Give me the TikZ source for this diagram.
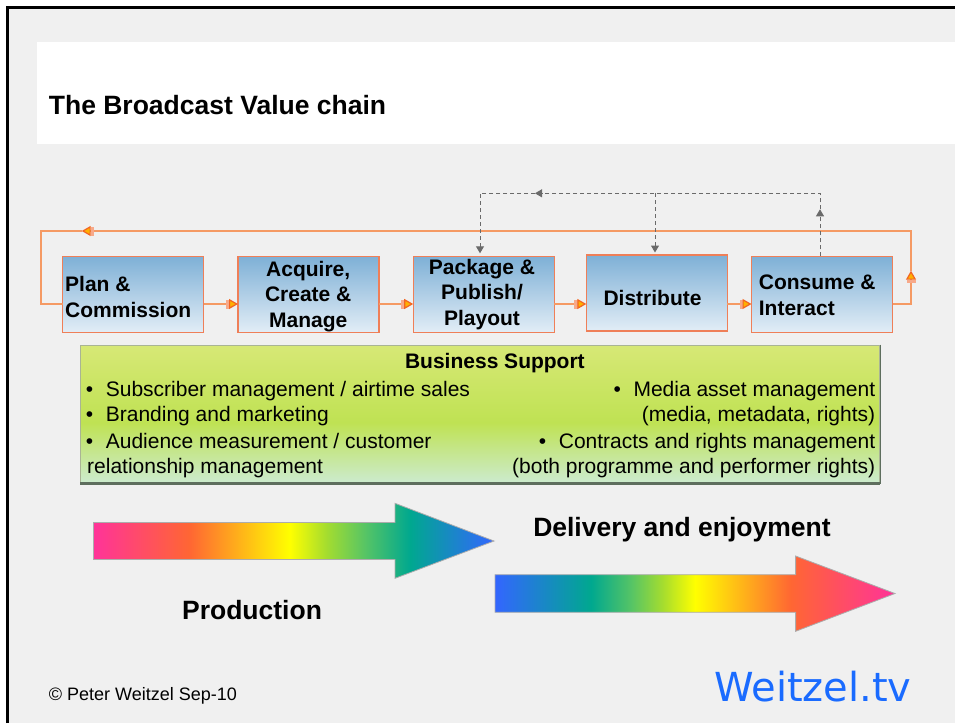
\documentclass[tikz,border=0pt]{standalone}
\usepackage{fontspec}
\setmainfont{Liberation Sans}
\newfontfamily\logofont{DejaVu Sans}
\usetikzlibrary{arrows.meta}

% palette
\definecolor{slidegray}{HTML}{F0F0F0}
\definecolor{stagetop}{HTML}{7EB0D6}
\definecolor{stagebot}{HTML}{E2EDF6}
\definecolor{stageedge}{HTML}{EF7F58}
\definecolor{flowline}{HTML}{F59A64}
\definecolor{tipedge}{HTML}{F26522}
\definecolor{tipfill}{HTML}{FFB000}
\definecolor{tiptail}{HTML}{F7A98A}
\definecolor{fbgray}{HTML}{6A6A6A}
\definecolor{bstop}{HTML}{D7E876}
\definecolor{bsmid}{HTML}{BFE253}
\definecolor{bsbot}{HTML}{CCEBCF}
\definecolor{bsedge}{HTML}{A9B494}
\definecolor{bsshadow}{HTML}{5E6E5E}
\definecolor{rbpink}{HTML}{FF3399}
\definecolor{rborange}{HTML}{FF6633}
\definecolor{rbyellow}{HTML}{FFFF00}
\definecolor{rblime}{HTML}{A6DD2E}
\definecolor{rbgreen}{HTML}{55C466}
\definecolor{rbteal}{HTML}{00A88F}
\definecolor{rbblue}{HTML}{3366FF}
\definecolor{logoblue}{HTML}{1A6BFF}

% rainbow fills for the two big arrows (path spans 25bp..75bp)
\pgfdeclarehorizontalshading{productionflow}{100bp}{%
  color(0bp)=(rbpink); color(25bp)=(rbpink); color(37bp)=(rborange);
  color(49.5bp)=(rbyellow); color(54bp)=(rblime); color(59bp)=(rbgreen);
  color(64.5bp)=(rbteal); color(75bp)=(rbblue); color(100bp)=(rbblue)}
\pgfdeclarehorizontalshading{deliveryflow}{100bp}{%
  color(0bp)=(rbblue); color(25bp)=(rbblue); color(37bp)=(rbteal);
  color(42bp)=(rbgreen); color(46bp)=(rblime); color(50bp)=(rbyellow);
  color(62bp)=(rborange); color(75bp)=(rbpink); color(100bp)=(rbpink)}
% green band behind the business support list
\pgfdeclareverticalshading{supportfill}{100bp}{%
  color(0bp)=(bsbot); color(25bp)=(bsbot); color(47bp)=(bsmid);
  color(75bp)=(bstop); color(100bp)=(bstop)}

\tikzset{
  stage/.style={draw=stageedge, line width=1.3pt, top color=stagetop,
    bottom color=stagebot, minimum width=141pt, minimum height=76pt,
    inner sep=0pt, outer sep=0pt},
  stagetext/.style={font=\fontsize{21}{25.5}\selectfont\bfseries, inner sep=0pt},
  flow/.style={draw=flowline, line width=1.5pt},
  flowtip/.style={flow, -{Rectangle[length=3pt,width=8pt,color=tiptail,fill=tiptail,line width=0.5pt]
    Triangle[length=9pt,width=10pt,color=tipedge,fill=tipfill,line width=1.2pt]}},
  feedback/.style={draw=fbgray, line width=1pt, dash pattern=on 4pt off 3pt},
  fbtip/.style={feedback, -{Triangle[length=7pt,width=8pt]}},
  listtext/.style={font=\fontsize{21}{25}\selectfont, inner sep=0pt},
  bigbold/.style={font=\fontsize{26.5}{31}\selectfont\bfseries, inner sep=0pt},
  rainbow/.style={draw=gray!65, line width=0.8pt},
}

\begin{document}
\begin{tikzpicture}[x=1pt, y=-1pt]
\useasboundingbox (0,0) rectangle (955,723);

% slide background and frame
\fill[white] (0,0) rectangle (955,723);
\fill[slidegray] (9,9) rectangle (955,723);
\draw[line width=3pt] (7.5,723) -- (7.5,7.5) -- (955,7.5);

% title band
\fill[white] (36.5,41.7) rectangle (955,144.3);
\node[bigbold, anchor=base west] (title) at (48.7,114.3) {The Broadcast Value chain};

% value chain stages
\node[stage] (b1) at (133,294.3) {};
\node[stage] (b2) at (308.5,294.3) {};
\node[stage] (b3) at (483.7,294.3) {};
\node[stage] (b4) at (656.8,293) {};
\node[stage] (b5) at (822,294.3) {};

\node[stagetext, align=left, anchor=west] (t1) at (65,296.9) {Plan \&\\Commission};
\node[stagetext, align=center] (t2) at (308.2,296.2) {Acquire,\\Create \&\\Manage};
\node[stagetext, align=center] (t3) at (482,294.5) {Package \&\\Publish/\\Playout};
\node[stagetext, anchor=base] (t4) at (652.5,305.7) {Distribute};
\node[stagetext, align=left, anchor=west] (t5) at (758.7,295.2) {Consume \&\\Interact};

% feedback loop route
\coordinate (fbR) at (911,304);
\coordinate (fbRU) at (911,270.7);
\coordinate (fbTR) at (911,231);
\coordinate (fbTA) at (81.7,231);
\coordinate (fbTL) at (41,231);
\coordinate (fbBL) at (41,304);

% forward flow between stages
\draw[flowtip] (b1.east |- fbBL) -- (b2.west |- fbBL);
\draw[flowtip] (b2.east |- fbBL) -- (b3.west |- fbBL);
\draw[flowtip] (b3.east |- fbBL) -- (b4.west |- fbBL);
\draw[flowtip] (b4.east |- fbBL) -- (b5.west |- fbBL);

% loop back from consumption to planning
\draw[flowtip] (b5.east |- fbR) -- (fbR) -- (fbRU);
\draw[flowtip] (fbRU) -- (fbTR) -- (fbTA);
\draw[flow] (fbTA) -- (fbTL) -- (fbBL) -- (b1.west |- fbBL);

% dashed audience feedback
\coordinate (dUp) at (820,209.3);
\coordinate (dTR) at (820,193.3);
\coordinate (dTA) at (535,193.3);
\coordinate (dMid) at (655,193.3);
\coordinate (dTL) at (480,193.3);
\draw[fbtip] (dUp |- b5.north) -- (dUp);
\draw[fbtip] (dUp) -- (dTR) -- (dTA);
\draw[fbtip, shorten >=3pt] (dTA) -- (dTL) -- (dTL |- b3.north);
\draw[fbtip, shorten >=2.5pt] (dMid) -- (dMid |- b4.north);

% business support panel
\node[shading=supportfill, draw=bsedge, line width=0.8pt, minimum width=799pt,
  minimum height=138.5pt, inner sep=0pt] (bs) at (480.2,414.25) {};
\draw[bsshadow, line width=3pt] (bs.south west) -- (bs.south east);
\draw[bsshadow, line width=0.8pt] (bs.north east) -- (bs.south east);

\node[font=\fontsize{21}{25}\selectfont\bfseries, inner sep=0pt, anchor=base] (bshead) at (494.9,368.3) {Business Support};
\node[listtext, anchor=base west] (bl1) at (85.7,396.7) {•\hspace{0.6em}Subscriber management / airtime sales};
\node[listtext, anchor=base west] (bl2) at (85.7,421.7) {•\hspace{0.6em}Branding and marketing};
\node[listtext, anchor=base west] (bl3) at (85.7,448.3) {•\hspace{0.6em}Audience measurement / customer};
\node[listtext, anchor=base west] (bl4) at (87,473.3) {relationship management};
\node[listtext, anchor=base east] (br1) at (875.4,396.7) {•\hspace{0.6em}Media asset management};
\node[listtext, anchor=base east] (br2) at (875.4,421.7) {(media, metadata, rights)};
\node[listtext, anchor=base east] (br3) at (875.4,448.3) {•\hspace{0.6em}Contracts and rights management};
\node[listtext, anchor=base east] (br4) at (875.4,473.3) {(both programme and performer rights)};

% rainbow arrows
\shadedraw[shading=productionflow, rainbow] (93.4,522.5) -- (395,522.5) -- (395,503.3)
  -- (494,541) -- (395,578.3) -- (395,559.5) -- (93.4,559.5) -- cycle;
\shadedraw[shading=deliveryflow, rainbow] (495,574.7) -- (795.6,574.7) -- (795.6,556)
  -- (895,593.5) -- (795.6,631.3) -- (795.6,612.3) -- (495,612.3) -- cycle;

\node[bigbold, anchor=base] (deliv) at (682,536.7) {Delivery and enjoyment};
\node[bigbold, anchor=base] (prod) at (252,619) {Production};

% footer
\node[anchor=base west, font=\fontsize{18}{20}\selectfont, inner sep=0pt] (copy) at (48.7,700) {© Peter Weitzel Sep-10};
\node[anchor=base west, font=\logofont\fontsize{40}{44}\selectfont, text=logoblue, inner sep=0pt] (logo) at (714,701.7) {Weitzel.tv};
\end{tikzpicture}
\end{document}
